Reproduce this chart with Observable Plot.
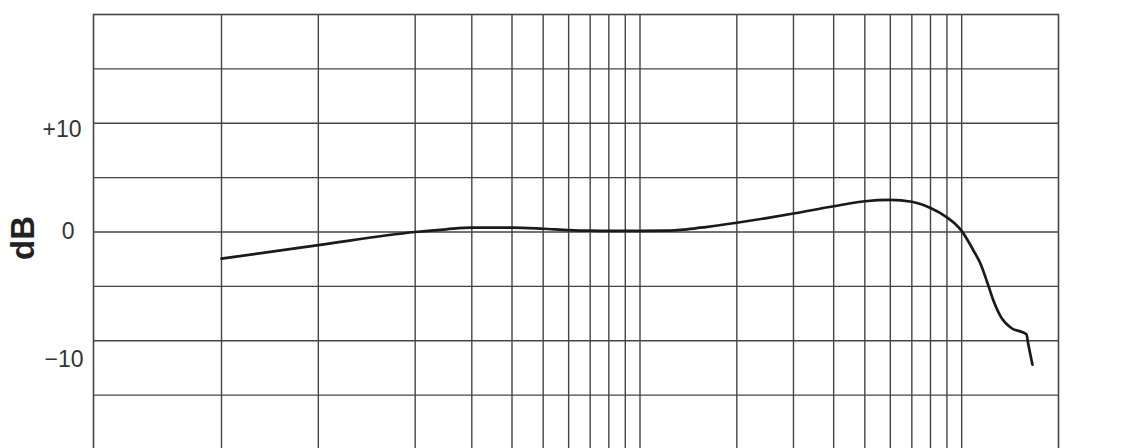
<!DOCTYPE html>
<html>
<head>
<meta charset="utf-8">
<script src="https://cdn.jsdelivr.net/npm/d3@7"></script>
<script src="https://cdn.jsdelivr.net/npm/@observablehq/plot@0.6"></script>
<style>
  html, body { margin: 0; padding: 0; background: #fff; overflow: hidden; }
  #chart svg { display: block; }
</style>
</head>
<body>
<div id="chart"></div>
<script>
// Frequency response (Hz vs dB)
const freqs = [50, 100, 200, 250, 300, 400, 500, 600, 700, 800, 1000, 1200, 1400, 1600, 2000, 2500, 3000, 4000, 5000, 6000, 7000, 8000, 9000, 9500, 10000, 10600, 11000, 11400, 12000, 12550, 13300, 14300, 15400, 15900, 16100, 16600];
const dbValues = [-2.45, -1.2, 0, 0.25, 0.4, 0.4, 0.3, 0.18, 0.12, 0.1, 0.1, 0.12, 0.25, 0.45, 0.85, 1.3, 1.7, 2.37, 2.83, 2.95, 2.78, 2.2, 1.35, 0.8, 0.1, -1.1, -1.95, -2.8, -4.6, -6.3, -7.9, -8.85, -9.2, -9.42, -10.28, -12.2];

// Grid lines
const xGrid = [50, 100, 200, 300, 400, 500, 600, 700, 800, 900, 1000, 2000, 3000, 4000, 5000, 6000, 7000, 8000, 9000, 10000];
const yGrid = [-15, -10, -5, 0, 5, 10, 15];

// Y tick labels
const yTicks = [10, 0, -10];
const yTickLabels = ["+10", "0", "\u221210"];
const yLabel = "dB";

const data = freqs.map((f, i) => ({f, db: dbValues[i]}));
const labelOf = v => yTickLabels[yTicks.indexOf(v)];

const axisStyle = {tickSize: 0, fontSize: 23, fill: "#333", tickFormat: labelOf, label: null};

const chart = Plot.plot({
  width: 1126,
  height: 450,
  marginLeft: 93,
  marginRight: 68,
  marginTop: 14,
  marginBottom: 1,
  style: {fontFamily: "'Liberation Sans', Arial, sans-serif", background: "#fff"},
  x: {type: "log", domain: [20, 20000], axis: null},
  y: {domain: [-20, 20], axis: null},
  marks: [
    Plot.ruleX(xGrid, {stroke: "#444", strokeWidth: 1.4}),
    Plot.ruleY(yGrid, {stroke: "#444", strokeWidth: 1.4}),
    Plot.frame({stroke: "#444", strokeWidth: 1.6}),
    Plot.axisY([yTicks[0]], {...axisStyle, tickPadding: 12, dy: 6}),
    Plot.axisY([yTicks[1]], {...axisStyle, tickPadding: 19}),
    Plot.axisY([yTicks[2]], {...axisStyle, tickPadding: 10, dy: 19}),
    Plot.text([yLabel], {text: d => d, frameAnchor: "left", textAnchor: "middle", dx: -70, dy: 6, rotate: -90,
      fontSize: 33, fontWeight: "bold", fill: "#222"}),
    Plot.line(data, {x: "f", y: "db", curve: "monotone-x", stroke: "#1a1a1a", strokeWidth: 2.7})
  ]
});
document.getElementById("chart").append(chart);
</script>
</body>
</html>
